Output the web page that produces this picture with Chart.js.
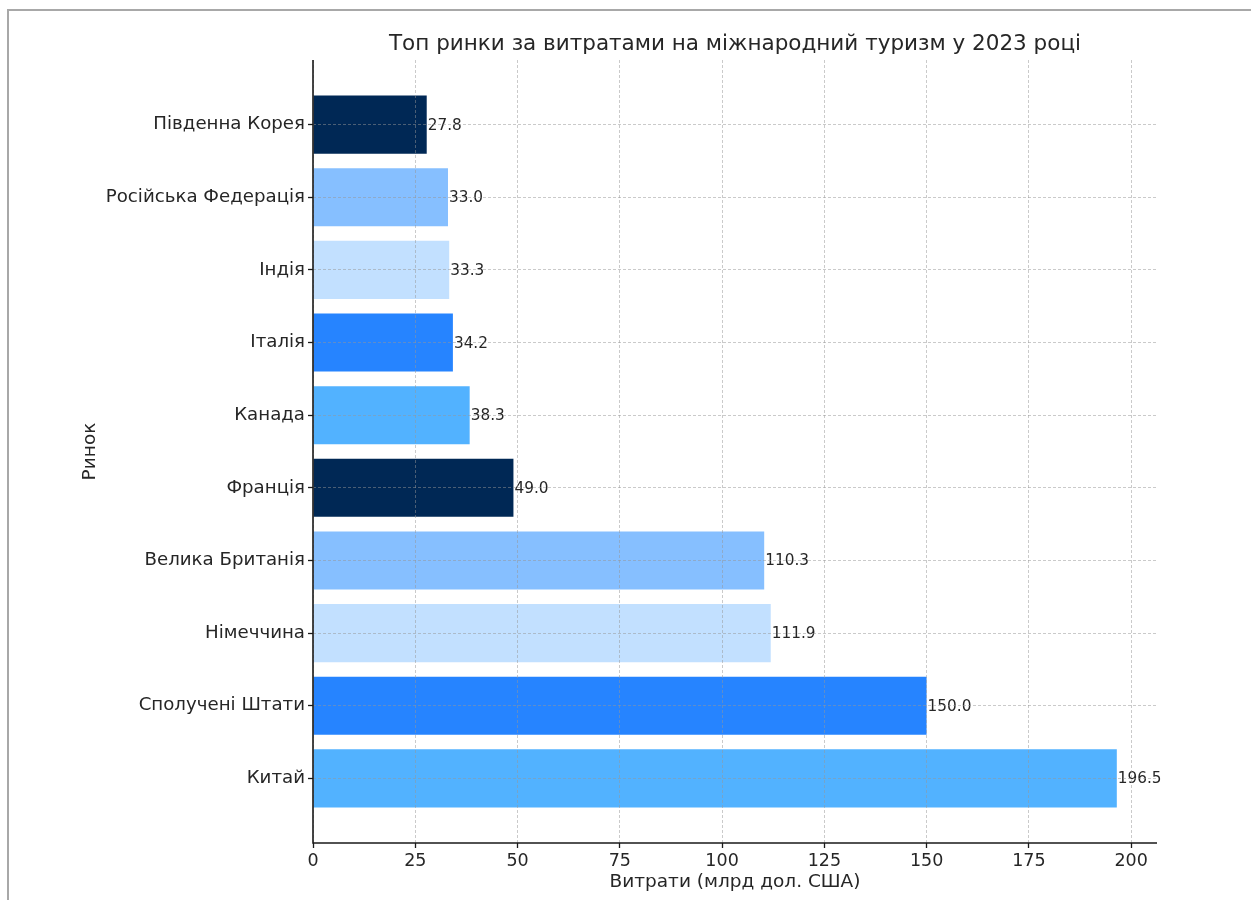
<!DOCTYPE html>
<html><head><meta charset="utf-8">
<script src="https://cdn.jsdelivr.net/npm/chart.js@4/dist/chart.umd.min.js"></script>
<style>html,body{margin:0;padding:0;background:#fff;} canvas{display:block;}</style>
</head><body>
<canvas id="c" width="1251" height="900"></canvas>
<script>
const categories = ['Китай','Сполучені Штати','Німеччина','Велика Британія','Франція','Канада','Італія','Індія','Російська Федерація','Південна Корея'];
const spending = [196.5, 150.0, 111.9, 110.3, 49.0, 38.3, 34.2, 33.3, 33.0, 27.8];
const barColors = ['#52b2ff','#2684ff','#c2e0ff','#86bfff','#002855','#52b2ff','#2684ff','#c2e0ff','#86bfff','#002855'];
const xTicks = [0, 25, 50, 75, 100, 125, 150, 175, 200];
const titleText = 'Топ ринки за витратами на міжнародний туризм у 2023 році';
const xTitle = 'Витрати (млрд дол. США)';
const yTitle = 'Ринок';

const FONT = "'DejaVu Sans', sans-serif";
const TXT = '#262626';
const GRID = 'rgba(150,150,150,0.5)';
const n = categories.length;
const xMax = Math.max(...spending) * 1.05;
const yPad = 0.4 + 0.05 * (n - 1 + 0.8);

const decor = {
  id: 'decor',
  beforeDraw(chart) {
    const ctx = chart.ctx;
    ctx.save();
    ctx.fillStyle = '#fff';
    ctx.fillRect(0, 0, chart.width, chart.height);
    ctx.strokeStyle = '#a8a8a8';
    ctx.lineWidth = 2;
    ctx.beginPath();
    ctx.moveTo(8, 900); ctx.lineTo(8, 10); ctx.lineTo(1251, 10);
    ctx.stroke();
    ctx.restore();
  },
  afterDatasetsDraw(chart) {
    const ctx = chart.ctx;
    const meta = chart.getDatasetMeta(0);
    ctx.save();
    ctx.font = '15.3px ' + FONT;
    ctx.fillStyle = TXT;
    ctx.textAlign = 'left';
    ctx.textBaseline = 'middle';
    meta.data.forEach((bar, i) => {
      ctx.fillText(spending[i].toFixed(1), bar.x + 1, bar.y + 1);
    });
    ctx.restore();
  },
  afterDraw(chart) {
    const ctx = chart.ctx;
    const a = chart.chartArea;
    ctx.save();
    ctx.strokeStyle = '#1a1a1a';
    ctx.lineWidth = 1.6;
    ctx.beginPath();
    ctx.moveTo(a.left, a.top); ctx.lineTo(a.left, a.bottom); ctx.lineTo(a.right, a.bottom);
    ctx.stroke();
    ctx.fillStyle = TXT;
    ctx.textAlign = 'center';
    ctx.textBaseline = 'middle';
    ctx.font = '21.5px ' + FONT;
    ctx.fillText(titleText, (a.left + a.right) / 2, 44);
    ctx.font = '18.5px ' + FONT;
    ctx.fillText(xTitle, (a.left + a.right) / 2, 882);
    ctx.translate(90, (a.top + a.bottom) / 2);
    ctx.rotate(-Math.PI / 2);
    ctx.fillText(yTitle, 0, 0);
    ctx.restore();
  }
};

new Chart(document.getElementById('c'), {
  type: 'bar',
  data: {
    datasets: [{
      data: spending.map((v, i) => ({ x: v, y: i })),
      backgroundColor: barColors,
      borderWidth: 0,
      categoryPercentage: 0.8,
      barPercentage: 1.0
    }]
  },
  options: {
    indexAxis: 'y',
    responsive: false,
    animation: false,
    devicePixelRatio: 1,
    layout: { padding: { left: 0, top: 60, right: 94, bottom: 0 } },
    plugins: { legend: { display: false }, tooltip: { enabled: false }, title: { display: false } },
    scales: {
      x: {
        type: 'linear',
        min: 0,
        max: xMax,
        offset: false,
        afterBuildTicks: s => { s.ticks = xTicks.map(v => ({ value: v })); },
        afterFit: s => { s.height = 57; },
        grid: { z: 1, offset: false, color: GRID, lineWidth: 1, drawTicks: true, tickLength: 5, tickColor: '#1a1a1a', tickWidth: 1.3 },
        border: { display: false, dash: [3, 2] },
        ticks: { font: { family: FONT, size: 17.5 }, color: TXT, padding: 3, autoSkip: false, maxRotation: 0 }
      },
      y: {
        type: 'linear',
        min: -yPad,
        max: n - 1 + yPad,
        offset: false,
        afterBuildTicks: s => { s.ticks = categories.map((c, i) => ({ value: i })); },
        afterFit: s => { s.width = 313; },
        grid: { z: 1, offset: false, color: GRID, lineWidth: 1, drawTicks: true, tickLength: 5, tickColor: '#1a1a1a', tickWidth: 1.3 },
        border: { display: false, dash: [3, 2] },
        ticks: { font: { family: FONT, size: 18.2 }, color: TXT, padding: 3, autoSkip: false, callback: v => categories[v] }
      }
    }
  },
  plugins: [decor]
});
</script>
</body></html>
